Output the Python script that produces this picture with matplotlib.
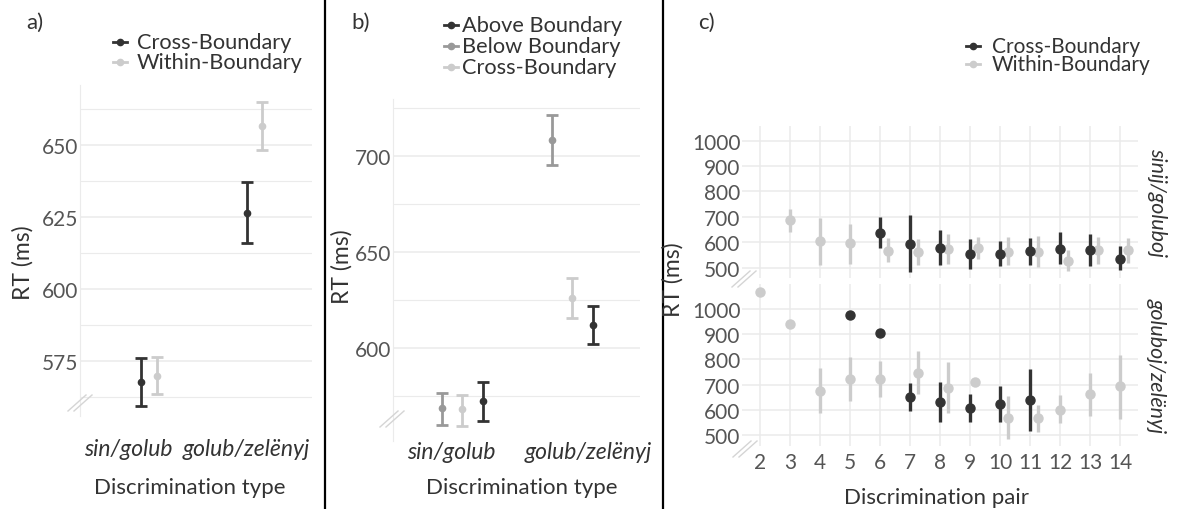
import numpy as np
import matplotlib.pyplot as plt
import matplotlib.transforms as mtransforms
from matplotlib.lines import Line2D

plt.rcParams['font.family'] = ['Lato', 'DejaVu Sans']

W, H = 1177, 510
DARK = '#333333'
MID = '#999999'
LIGHT = '#cccccc'
GRID = '#ebebeb'
TICK = '#555555'
TITLE = '#333333'
nan = np.nan

# a) cross vs within boundary, by discrimination type
types = ['sin/golub', 'golub/zelënyj']
a_cross_mean = [567.7, 626.4]
a_cross_lo = [559.4, 616.0]
a_cross_hi = [576.0, 637.2]
a_within_mean = [569.8, 656.6]
a_within_lo = [563.5, 648.3]
a_within_hi = [576.4, 665.0]

# b) above / below / cross boundary
b_above_mean = [572.4, 612.0]
b_above_lo = [562.0, 602.0]
b_above_hi = [582.3, 621.9]
b_below_mean = [568.8, 708.3]
b_below_lo = [560.0, 695.3]
b_below_hi = [576.5, 721.4]
b_cross_mean = [568.2, 626.0]
b_cross_lo = [559.4, 615.6]
b_cross_hi = [575.5, 636.5]

# c) per discrimination pair, two facets
pairs = list(range(2, 15))
c1_cross_mean = [nan, nan, nan, nan, 637, 594, 578, 554, 555, 567, 575, 571, 535]
c1_cross_lo = [nan, nan, nan, nan, 578, 481, 509, 496, 505, 511, 514, 507, 489]
c1_cross_hi = [nan, nan, nan, nan, 701, 707, 648, 611, 604, 615, 641, 633, 584]
c1_within_mean = [nan, 686, 606, 595, 567, 560, 574, 578, 562, 562, 527, 571, 571]
c1_within_lo = [nan, 640, 511, 513, 521, 509, 514, 534, 509, 501, 488, 514, 518]
c1_within_hi = [nan, 729, 696, 673, 615, 611, 631, 621, 621, 626, 571, 621, 617]

c2_cross_mean = [nan, nan, nan, 974, 904, 650, 630, 608, 624, 637, nan, nan, nan]
c2_cross_lo = [nan, nan, nan, nan, nan, 595, 551, 551, 551, 515, nan, nan, nan]
c2_cross_hi = [nan, nan, nan, nan, nan, 706, 710, 661, 694, 763, nan, nan, nan]
c2_within_mean = [1067, 941, 674, 723, 723, 745, 687, 712, 568, 567, 600, 661, 693]
c2_within_lo = [nan, nan, 587, 633, 650, 661, 588, nan, 485, 511, 547, 574, 564]
c2_within_hi = [nan, nan, 767, 809, 792, 835, 789, nan, 653, 620, 657, 747, 816]

facets = ['sinij/goluboj', 'goluboj/zelënyj']


def rect(l, t, r, b):
    return [l / W, 1 - b / H, (r - l) / W, (b - t) / H]


def fpt(x, y):
    return x / W, 1 - y / H


fig = plt.figure(figsize=(W / 100, H / 100), dpi=100)


def style(ax, major, minor, pad_x, shifts, pad_y=1):
    for s in ['top', 'right', 'bottom']:
        ax.spines[s].set_visible(False)
    ax.spines['left'].set_color(GRID)
    ax.set_yticks(major)
    ax.set_yticks(minor, minor=True)
    ax.grid(axis='y', which='major', color=GRID, lw=1.1)
    ax.grid(axis='y', which='minor', color=GRID, lw=0.8)
    ax.set_axisbelow(True)
    ax.tick_params(axis='both', which='both', length=0, colors=TICK, labelsize=15)
    ax.tick_params(axis='y', pad=pad_y)
    ax.tick_params(axis='x', pad=pad_x, labelsize=16.5)
    # category labels sit slightly off their dodge centres
    for lb, dx in zip(ax.get_xticklabels(), shifts):
        lb.set_fontstyle('italic')
        lb.set_color('#333333')
        lb.set_transform(lb.get_transform() +
                         mtransforms.ScaledTranslation(dx / 100, 0, fig.dpi_scale_trans))


def caps(ax, x, mean, lo, hi, color):
    x = np.asarray(x, float)
    mean = np.asarray(mean)
    err = [mean - np.asarray(lo), np.asarray(hi) - mean]
    ax.errorbar(x, mean, yerr=err, fmt='o', color=color, ms=4.5, lw=2,
                capsize=4.3, capthick=2)


def breakmark(x, y):
    for dx in (-3, 3):
        fig.add_artist(Line2D([(x + dx - 9) / W, (x + dx + 9) / W],
                              [1 - (y + 8) / H, 1 - (y - 8) / H],
                              color='#d5d5d5', lw=1))


# ---- panel a
ax = fig.add_axes(rect(80, 86, 312, 417))
xa = np.arange(len(types))
caps(ax, xa - 0.075, a_cross_mean, a_cross_lo, a_cross_hi, DARK)
caps(ax, xa + 0.075, a_within_mean, a_within_lo, a_within_hi, LIGHT)
ax.set_xlim(-0.654, 1.545)
ax.set_ylim(556, 671)
ax.set_xticks(xa, types)
style(ax, [575, 600, 625, 650], [562.5, 587.5, 612.5, 637.5, 662.5], pad_x=16,
      shifts=[-21, -8])
breakmark(80, 404)

# ---- panel b
ax = fig.add_axes(rect(393, 100, 640, 442))
xb = np.arange(len(types))
caps(ax, xb - 0.18, b_below_mean, b_below_lo, b_below_hi, MID)
caps(ax, xb, b_cross_mean, b_cross_lo, b_cross_hi, LIGHT)
caps(ax, xb + 0.19, b_above_mean, b_above_lo, b_above_hi, DARK)
ax.set_xlim(-0.627, 1.618)
ax.set_ylim(551.6, 729.7)
ax.set_xticks(xb, types)
style(ax, [600, 650, 700], [575, 625, 675, 725], pad_x=0, shifts=[-11, 16])
breakmark(392, 420)

# ---- panel c
c_data = [
    (c1_cross_mean, c1_cross_lo, c1_cross_hi, c1_within_mean, c1_within_lo, c1_within_hi),
    (c2_cross_mean, c2_cross_lo, c2_cross_hi, c2_within_mean, c2_within_lo, c2_within_hi),
]
c_boxes = [rect(742, 127, 1138, 279), rect(742, 285, 1138, 447)]
c_ylims = [(459, 1058), (456, 1099)]
xs = np.array(pairs, float)
for k, (cm, cl, ch, wm, wl, wh) in enumerate(c_data):
    ax = fig.add_axes(c_boxes[k])
    cm, cl, ch = map(np.asarray, (cm, cl, ch))
    wm, wl, wh = map(np.asarray, (wm, wl, wh))
    has_cbar = ~np.isnan(cl)
    has_wbar = ~np.isnan(wl)
    # within-boundary points are nudged right where a cross-boundary range sits
    shift = np.where(has_cbar, np.where(has_wbar, 0.28, 0.17), 0.0)
    xw = xs + shift
    ax.vlines(xw[has_wbar], wl[has_wbar], wh[has_wbar], color=LIGHT, lw=2.4)
    ax.plot(xw, wm, 'o', color=LIGHT, ms=6.5, ls='none')
    ax.vlines(xs[has_cbar], cl[has_cbar], ch[has_cbar], color=DARK, lw=2.4)
    ax.plot(xs, cm, 'o', color=DARK, ms=6.5, ls='none')
    ax.set_xlim(1.4, 14.6)
    ax.set_ylim(*c_ylims[k])
    ax.set_yticks(range(500, 1001, 100))
    ax.set_xticks(pairs)
    for s in ax.spines.values():
        s.set_visible(False)
    ax.grid(color=GRID, lw=1.1)
    ax.set_axisbelow(True)
    ax.tick_params(length=0, colors=TICK, labelsize=15, pad=1)
    ax.tick_params(axis='x', pad=4)
    if k == 0:
        ax.set_xticklabels([])
    fig.text(*fpt(1157, (127 + 279) / 2 if k == 0 else (285 + 447) / 2), facets[k],
             rotation=270, ha='center', va='center', fontsize=15.5,
             fontstyle='italic', color=TITLE)
breakmark(744, 280)
breakmark(745, 450)

# ---- titles
for label, x in [('a)', 35), ('b)', 361), ('c)', 706)]:
    fig.text(*fpt(x, 23), label, ha='center', va='center', fontsize=16, color=TITLE)
for x, y in [(23, 263), (342, 267), (673, 280)]:
    fig.text(*fpt(x, y), 'RT (ms)', rotation=90, ha='center', va='center',
             fontsize=16.5, color=TITLE)
fig.text(*fpt(190, 488), 'Discrimination type', ha='center', va='center', fontsize=16, color=TITLE)
fig.text(*fpt(522, 488), 'Discrimination type', ha='center', va='center', fontsize=16, color=TITLE)
fig.text(*fpt(937, 498), 'Discrimination pair', ha='center', va='center', fontsize=16, color=TITLE)


# ---- legends
def legend(entries, key_x, text_x, ys, size=15.7):
    for (label, color), y in zip(entries, ys):
        fig.add_artist(Line2D([(key_x - 7) / W, (key_x + 7) / W], [1 - y / H] * 2,
                              color=color, lw=2))
        fig.add_artist(Line2D([key_x / W], [1 - y / H], marker='o', ms=4.5,
                              color=color))
        fig.text(*fpt(text_x, y), label, ha='left', va='center', fontsize=size,
                 color=TITLE)


legend([('Cross-Boundary', DARK), ('Within-Boundary', LIGHT)], 120, 137, [43, 63])
legend([('Above Boundary', DARK), ('Below Boundary', MID), ('Cross-Boundary', LIGHT)],
       451, 462, [26, 47, 68])
legend([('Cross-Boundary', DARK), ('Within-Boundary', LIGHT)], 973, 992, [47, 65], size=15)

# panel separators
for x in (325, 663):
    fig.add_artist(Line2D([x / W] * 2, [0, 1], color='black', lw=1.6))

fig.savefig('out.png', dpi=100, facecolor='white')
